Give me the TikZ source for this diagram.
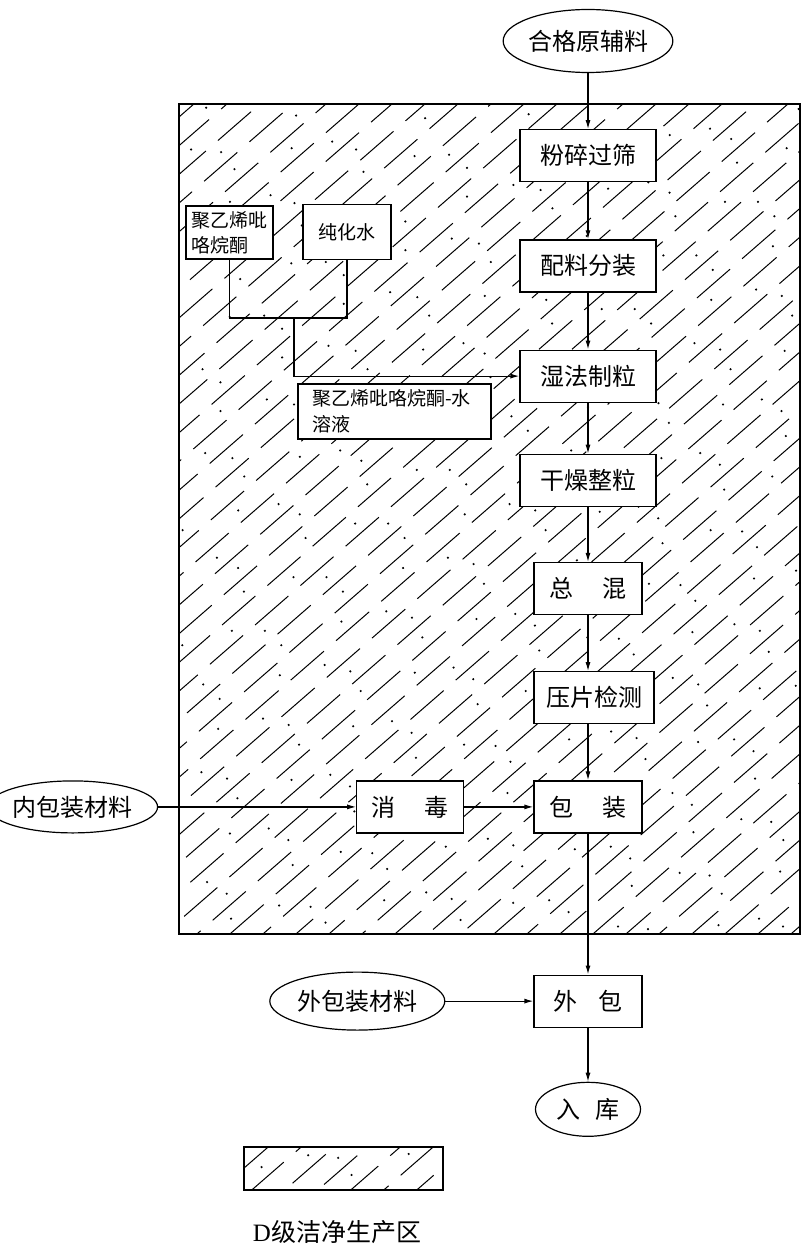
\documentclass[tikz,border=0pt]{standalone}
\usepackage{fontspec}
\setmainfont{Liberation Serif}
\newfontfamily\cjk{Noto Sans CJK SC}
\usetikzlibrary{arrows.meta,positioning,shapes.geometric}

\begin{document}
\begin{tikzpicture}[x=1pt,y=-1pt,
  box/.style={draw,line width=1.2pt,fill=white,minimum height=52pt,minimum width=136pt,inner sep=0pt,font=\cjk\fontsize{24}{28}\selectfont},
  ell/.style={ellipse,draw,line width=1.2pt,fill=white,inner sep=0pt,font=\cjk\fontsize{24}{28}\selectfont},
  note/.style={draw,line width=1.2pt,fill=white,align=left,inner sep=0pt,font=\cjk\fontsize{19}{25}\selectfont},
  line/.style={-{Latex[length=9pt,width=5pt]},line width=1.2pt},
  hatch/.style={line width=1pt,dash pattern=on 44pt off 16pt},
  speck/.style={line width=1.7pt,dash pattern=on 1.7pt off 80pt}
]
\useasboundingbox (0,0) rectangle (803,1252);

% clean zone hatching
\begin{scope}
\clip (179,104) rectangle (800,934);
\foreach \i in {0,...,50}{
  \pgfmathsetmacro\ph{mod(mod(\i*\i,60)*7+\i*13,60)}
  \draw[hatch,dash phase=\ph pt] (-800+\i*33,940) -- ++(1000,-870);
  \pgfmathsetmacro\pd{mod(mod(\i*\i,80)*11+\i*29,80)}
  \draw[speck,dash phase=\pd pt] (-783.5+\i*33,940) -- ++(1000,-870);
}
\end{scope}
\draw[line width=1.3pt] (179,104) rectangle (800,934);

% legend
\begin{scope}
\clip (244,1147) rectangle (443,1190);
\foreach \i in {0,...,9}{
  \pgfmathsetmacro\ph{mod(mod(\i*\i,60)*7+\i*13,60)}
  \draw[hatch,dash phase=\ph pt] (180+\i*33,1195) -- ++(100,-87);
  \pgfmathsetmacro\pd{mod(mod(\i*\i,80)*11+\i*29,80)}
  \draw[speck,dash phase=\pd pt] (196.5+\i*33,1195) -- ++(100,-87);
}
\end{scope}
\draw[line width=1.3pt] (244,1147) rectangle (443,1190);
\node[font=\fontsize{25}{30}\selectfont] (legend) at (337,1232) {D{\cjk 级洁净生产区}};

% main line
\node[ell,minimum width=169pt,minimum height=63pt] (raw) at (588,41) {合格原辅料};
\node[box,below=56pt of raw] (crush) {粉碎过筛};
\node[box,below=57pt of crush] (batch) {配料分装};
\node[box,below=57pt of batch] (wet) {湿法制粒};
\node[box,below=51pt of wet] (dry) {干燥整粒};
\node[box,below=55pt of dry,minimum width=108pt] (mix) {总\hspace{1.2em}混};
\node[box,below=56pt of mix,minimum width=120pt,xshift=6pt] (press) {压片检测};
\node[box,below=56pt of press,minimum width=108pt,xshift=-6pt] (pack) {包\hspace{1.2em}装};
\node[box,below=141pt of pack,minimum width=108pt] (outer) {外\hspace{0.9em}包};
\node[ell,below=54pt of outer,minimum width=105pt,minimum height=54pt] (store) {入\hspace{0.6em}库};

% side inputs
\node[box,left=69pt of pack,minimum width=107pt] (disinf) {消\hspace{1.2em}毒};
\node[ell,left=198pt of disinf,minimum width=153pt,minimum height=52pt] (inner) {内包装材料};
\node[ell,left=88pt of outer,minimum width=175pt,minimum height=58pt] (outmat) {外包装材料};

\node[note,minimum width=87pt,minimum height=53pt] (pvp) at (229.5,232.5) {聚乙烯吡\\咯烷酮};
\node[note,align=center,minimum width=88pt,minimum height=55pt] (water) at (347,232) {纯化水};
\node[note,minimum width=193pt,minimum height=55pt,text width=165pt,font=\cjk\fontsize{19}{26}\selectfont] (sol) at (394.5,411.5) {聚乙烯吡咯烷酮-水\\溶液};
\coordinate (join) at (294,318);

\draw[line] (raw) -- (crush);
\draw[line] (crush) -- (batch);
\draw[line] (batch) -- (wet);
\draw[line] (wet) -- (dry);
\draw[line] (dry) -- (mix);
\draw[line] (mix.south) -- (mix.south |- press.north);
\draw[line] (pack.north |- press.south) -- (pack.north);
\draw[line] (pack) -- (outer);
\draw[line] (outer) -- (store);
\draw[line] (inner) -- (disinf);
\draw[line] (disinf) -- (pack);
\draw[line] (outmat) -- (outer);
\draw[line width=1.2pt] (pvp.south) |- (join) -| (water.south);
\draw[line] (join) |- (wet.west);
\end{tikzpicture}
\end{document}
